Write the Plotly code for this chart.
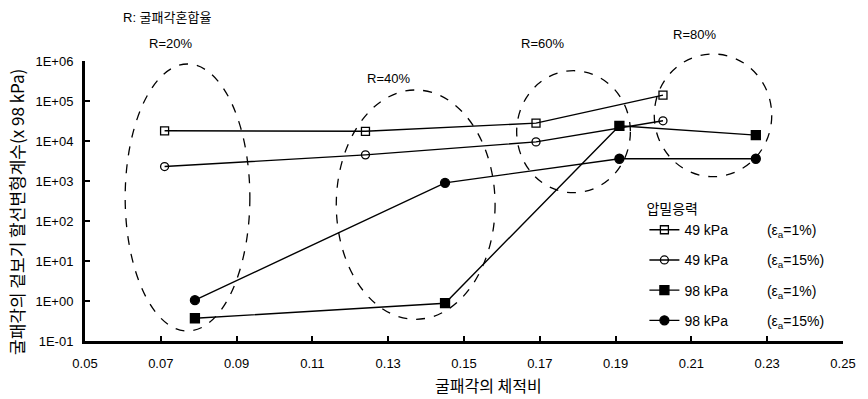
import math
import plotly.graph_objects as go

# ---- data ----
x_49_1 = [0.071, 0.124, 0.169, 0.2025]
y_49_1 = [1.8e4, 1.75e4, 2.8e4, 1.4e5]
x_49_15 = [0.071, 0.124, 0.169, 0.2025]
y_49_15 = [2.3e3, 4.5e3, 9.5e3, 3.2e4]
x_98_1 = [0.079, 0.145, 0.191, 0.227]
y_98_1 = [0.37, 0.88, 2.4e4, 1.4e4]
x_98_15 = [0.079, 0.145, 0.191, 0.227]
y_98_15 = [1.05, 900, 3.6e3, 3.6e3]

series_names = ["49 kPa", "49 kPa", "98 kPa", "98 kPa"]
strain_labels = ["(ε<sub>a</sub>=1%)", "(ε<sub>a</sub>=15%)", "(ε<sub>a</sub>=1%)", "(ε<sub>a</sub>=15%)"]

x_tickvals = [0.05, 0.07, 0.09, 0.11, 0.13, 0.15, 0.17, 0.19, 0.21, 0.23, 0.25]
x_ticktext = ["0.05", "0.07", "0.09", "0.11", "0.13", "0.15", "0.17", "0.19", "0.21", "0.23", "0.25"]
y_tickvals = [1e-1, 1e0, 1e1, 1e2, 1e3, 1e4, 1e5, 1e6]
y_ticktext = ["1E-01", "1E+00", "1E+01", "1E+02", "1E+03", "1E+04", "1E+05", "1E+06"]

X_RANGE = [0.05, 0.25]
Y_LOG_RANGE = [-1, 6]

# mixing-ratio groups (ellipse extents in data units) and labels
groups = [
    {"label": "R=20%", "x0": 0.0606, "x1": 0.0935, "y0": 10**-0.75, "y1": 10**5.925},
    {"label": "R=40%", "x0": 0.1163, "x1": 0.1582, "y0": 10**-0.4575, "y1": 10**5.275},
    {"label": "R=60%", "x0": 0.1639, "x1": 0.1939, "y0": 10**2.7075, "y1": 10**5.7575},
    {"label": "R=80%", "x0": 0.2002, "x1": 0.2312, "y0": 10**3.1075, "y1": 10**6.175},
]
group_label_pos = [(0.1134, 1.061), (0.4003, 0.936), (0.6036, 1.064), (0.8044, 1.096)]

FONT = "Arial, 'Liberation Sans', 'Noto Sans CJK KR', sans-serif"
KFONT = "'Noto Sans CJK KR', Arial, sans-serif"


def xp(v):
    return (v - X_RANGE[0]) / (X_RANGE[1] - X_RANGE[0])


def yp(v):
    return (math.log10(v) - Y_LOG_RANGE[0]) / (Y_LOG_RANGE[1] - Y_LOG_RANGE[0])


fig = go.Figure()
specs = [
    (x_49_1, y_49_1, "square-open", 8),
    (x_49_15, y_49_15, "circle-open", 8),
    (x_98_1, y_98_1, "square", 9),
    (x_98_15, y_98_15, "circle", 9),
]
nb = "\u00a0"
for i, (xs, ys, sym, sz) in enumerate(specs):
    fig.add_trace(go.Scatter(
        x=xs, y=ys, mode="lines+markers",
        name=series_names[i] + nb * 10 + strain_labels[i],
        legendgroup=f"g{i}",
        line=dict(color="black", width=1.4),
        marker=dict(symbol=sym, size=sz, color="black",
                    line=dict(color="black", width=1.3)),
        cliponaxis=False,
    ))

# ellipses drawn in paper space (so the R=80% one may extend above the plot area)
for g in groups:
    fig.add_shape(type="circle", xref="paper", yref="paper",
                  x0=xp(g["x0"]), x1=xp(g["x1"]), y0=yp(g["y0"]), y1=yp(g["y1"]),
                  line=dict(color="black", width=1.3, dash="dash"), layer="above")

for g, (px, py) in zip(groups, group_label_pos):
    fig.add_annotation(text=g["label"], xref="paper", yref="paper", x=px, y=py,
                       xanchor="center", yanchor="middle", showarrow=False,
                       font=dict(size=13, color="black", family=FONT))

fig.add_annotation(text="R: 굴패각혼합율", xref="paper", yref="paper", x=0.0469, y=1.157,
                   xanchor="left", yanchor="middle", showarrow=False,
                   font=dict(size=13, color="black", family=FONT))
fig.add_annotation(text="굴패각의 겉보기 할선변형계수(x 98 kPa)", xref="paper", yref="paper",
                   x=-0.0913, y=0.46, textangle=-90, xanchor="center", yanchor="middle",
                   showarrow=False,
                   font=dict(size=17, color="black", family=KFONT))
fig.add_annotation(text="굴패각의 체적비", xref="paper", yref="paper",
                   x=0.532, y=-0.158, xanchor="center", yanchor="middle", showarrow=False,
                   font=dict(size=16, color="black", family=KFONT))

fig.update_xaxes(range=X_RANGE, tickvals=x_tickvals, ticktext=x_ticktext,
                 showline=True, linecolor="black", linewidth=3, mirror=False,
                 ticks="inside", ticklen=5, tickwidth=2, tickcolor="black",
                 showgrid=False, zeroline=False, ticklabelstandoff=8,
                 tickfont=dict(size=13, color="black", family=FONT))
fig.update_yaxes(type="log", range=Y_LOG_RANGE, tickvals=y_tickvals, ticktext=y_ticktext,
                 showline=True, linecolor="black", linewidth=3, mirror=False,
                 ticks="inside", ticklen=5, tickwidth=2, tickcolor="black",
                 showgrid=False, zeroline=False, ticklabelstandoff=6,
                 tickfont=dict(size=13, color="black", family=FONT))

fig.update_layout(
    width=868, height=399,
    margin=dict(l=85, r=16, t=61, b=58),
    paper_bgcolor="white", plot_bgcolor="white",
    font=dict(family=FONT, color="black"),
    showlegend=True,
    legend=dict(x=0.738, y=0.518, xanchor="left", yanchor="top",
                bgcolor="rgba(0,0,0,0)", tracegroupgap=9,
                title=dict(text="압밀응력", font=dict(size=14, family=KFONT)),
                font=dict(size=14, family=FONT, color="black")),
)

fig.write_html("out.html", config={"displayModeBar": False},
               post_script="document.body.style.margin='0px';")
